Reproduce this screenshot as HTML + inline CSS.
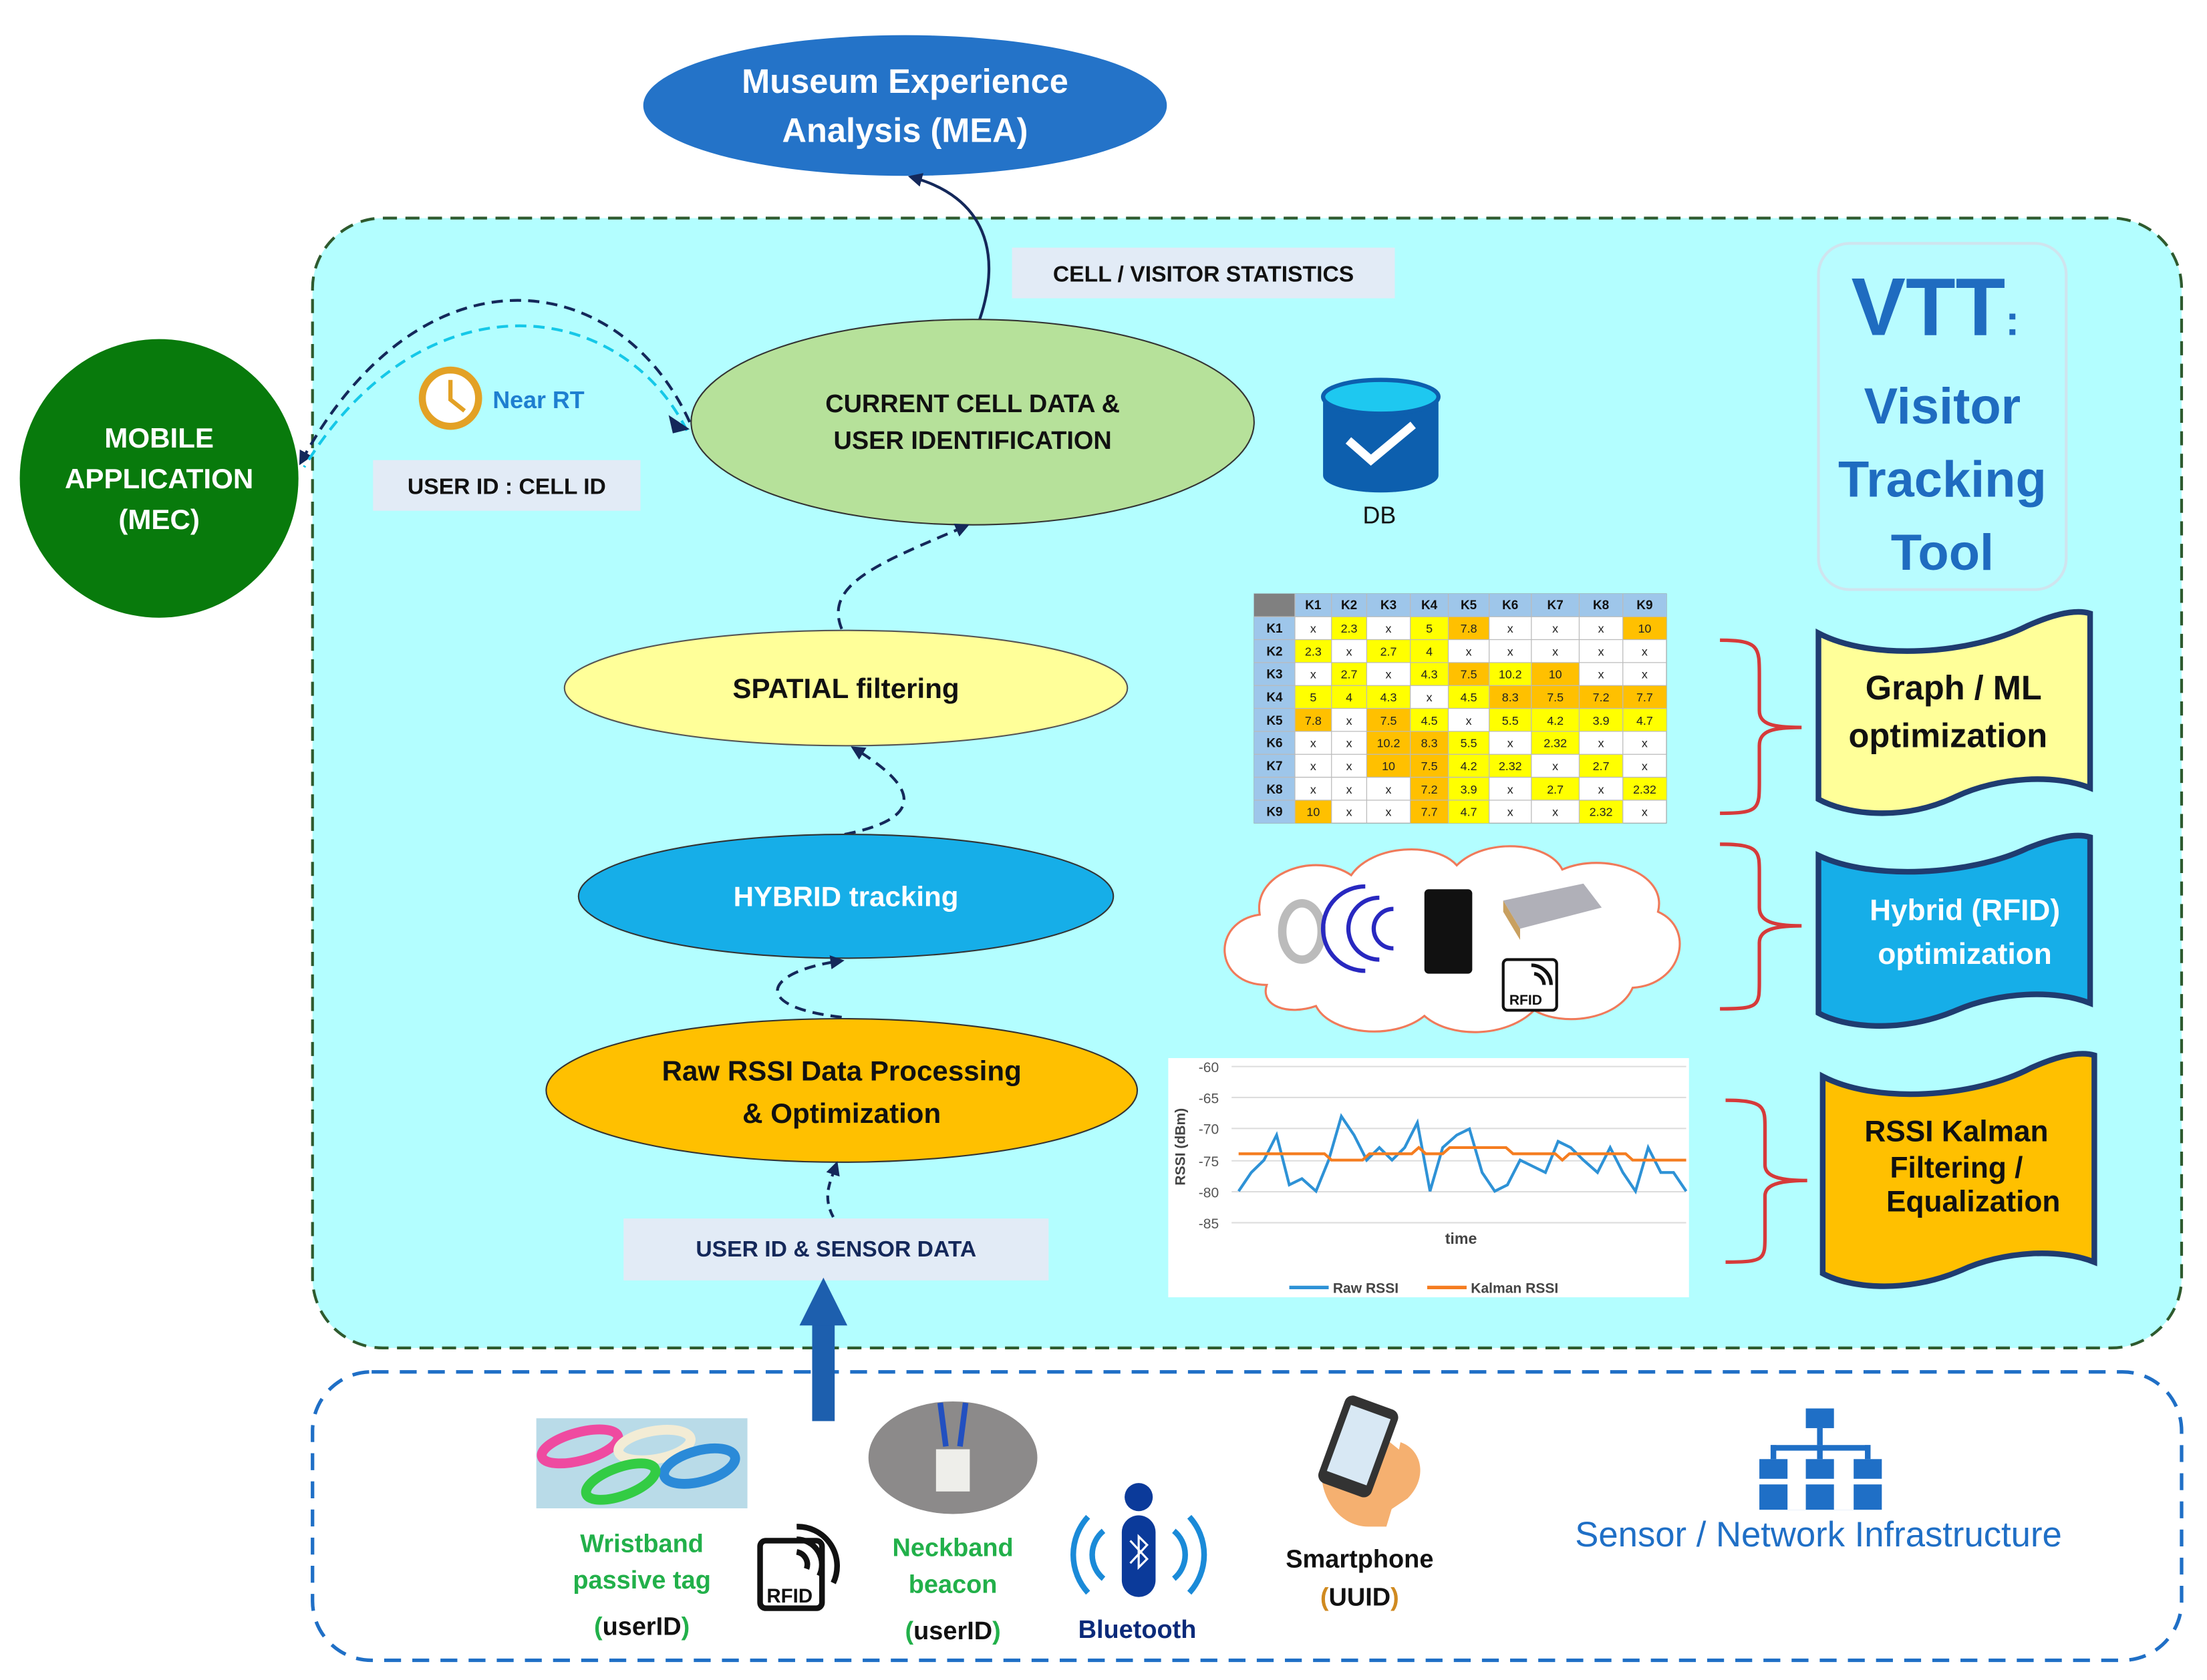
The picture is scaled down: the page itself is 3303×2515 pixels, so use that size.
<!DOCTYPE html>
<html><head><meta charset="utf-8"><style>
html,body{margin:0;padding:0;background:#fff;}
svg{display:block;}
text{font-family:"Liberation Sans",sans-serif;}
.b{font-weight:bold;}
.Y{fill:#ffff00;}
.O{fill:#ffc000;}
.tc{font-size:8.5px;text-anchor:middle;fill:#222;}
.th{font-size:9px;font-weight:bold;text-anchor:middle;fill:#111;}
</style></head><body>
<svg width="3303" height="2515" viewBox="0 0 1568 1194" xmlns="http://www.w3.org/2000/svg">
<defs>
<marker id="ah" markerWidth="10" markerHeight="10" refX="7" refY="5" orient="auto" markerUnits="userSpaceOnUse"><path d="M0,0 L10,5 L0,10 Z" fill="#14285a"/></marker>
</defs>
<rect width="1568" height="1194" fill="#fff"/>

<!-- main area -->
<rect x="222" y="155" width="1328" height="803" rx="50" fill="#b3feff" stroke="#2e5a2e" stroke-width="2" stroke-dasharray="10,6"/>
<!-- bottom area -->
<rect x="222" y="975" width="1328" height="205" rx="42" fill="#fff" stroke="#1f6fc6" stroke-width="2.5" stroke-dasharray="12,8"/>

<!-- MEA -->
<ellipse cx="643" cy="75" rx="186" ry="50" fill="#2473c8"/>
<text x="643" y="66" class="b" font-size="24" fill="#fff" text-anchor="middle">Museum Experience</text>
<text x="643" y="101" class="b" font-size="24" fill="#fff" text-anchor="middle">Analysis (MEA)</text>
<path d="M696,227 C712,180 700,140 648,126" fill="none" stroke="#14285a" stroke-width="2" marker-end="url(#ah)"/>

<!-- Mobile -->
<circle cx="113" cy="340" r="99" fill="#087a0c"/>
<text x="113" y="318" class="b" font-size="20" fill="#fff" text-anchor="middle">MOBILE</text>
<text x="113" y="347" class="b" font-size="20" fill="#fff" text-anchor="middle">APPLICATION</text>
<text x="113" y="376" class="b" font-size="20" fill="#fff" text-anchor="middle">(MEC)</text>

<!-- arcs to mobile -->
<path d="M490,300 C440,190 300,170 214,328" fill="none" stroke="#14285a" stroke-width="2" stroke-dasharray="8,5" marker-end="url(#ah)"/>
<path d="M488,306 C440,210 300,195 216,332" fill="none" stroke="#15c8e8" stroke-width="2" stroke-dasharray="8,5"/>
<path d="M475,295 L490,305 L478,308 Z" fill="#14285a"/>

<!-- stats box -->
<rect x="719" y="176" width="272" height="36" fill="#e2ebf6"/>
<text x="855" y="200" class="b" font-size="16" fill="#111" text-anchor="middle">CELL / VISITOR STATISTICS</text>

<!-- current cell -->
<ellipse cx="691" cy="300" rx="200" ry="73" fill="#b6e19a" stroke="#333" stroke-width="1"/>
<text x="691" y="293" class="b" font-size="18" fill="#111" text-anchor="middle">CURRENT CELL DATA &amp;</text>
<text x="691" y="319" class="b" font-size="18" fill="#111" text-anchor="middle">USER IDENTIFICATION</text>

<!-- Near RT -->
<circle cx="320" cy="283" r="20" fill="#fff" stroke="#e3a125" stroke-width="5"/>
<path d="M320,270 L320,284 L330,292" fill="none" stroke="#e3a125" stroke-width="3"/>
<text x="350" y="290" class="b" font-size="17" fill="#1e7fd0">Near RT</text>
<rect x="265" y="327" width="190" height="36" fill="#e2ebf6"/>
<text x="360" y="351" class="b" font-size="16" fill="#111" text-anchor="middle">USER ID : CELL ID</text>

<!-- DB -->
<path d="M940,282 L940,338 A41,12 0 0 0 1022,338 L1022,282 Z" fill="#0d5fae"/>
<ellipse cx="981" cy="282" rx="41" ry="12" fill="#1ec8f0" stroke="#0d5fae" stroke-width="3"/>
<path d="M958,313 L974,327 L1004,302" fill="none" stroke="#fff" stroke-width="6"/>
<text x="980" y="372" font-size="17" fill="#111" text-anchor="middle">DB</text>

<!-- VTT -->
<rect x="1292" y="173" width="176" height="246" rx="22" fill="#b8fcff" stroke="#cfe4ee" stroke-width="2"/>
<text x="1375" y="238" class="b" font-size="58" fill="#1f6cc0" text-anchor="middle">VTT<tspan font-size="30">:</tspan></text>
<text x="1380" y="301" class="b" font-size="36" fill="#1f6cc0" text-anchor="middle">Visitor</text>
<text x="1380" y="353" class="b" font-size="36" fill="#1f6cc0" text-anchor="middle">Tracking</text>
<text x="1380" y="405" class="b" font-size="36" fill="#1f6cc0" text-anchor="middle">Tool</text>

<!-- spatial -->
<path d="M598,447 C585,415 625,400 686,374" fill="none" stroke="#14285a" stroke-width="2" stroke-dasharray="8,5" marker-end="url(#ah)"/>
<ellipse cx="601" cy="489" rx="200" ry="41" fill="#ffff99" stroke="#555" stroke-width="1"/>
<text x="601" y="496" class="b" font-size="20" fill="#111" text-anchor="middle">SPATIAL filtering</text>

<!-- hybrid -->
<path d="M600,593 C665,580 645,555 607,532" fill="none" stroke="#14285a" stroke-width="2" stroke-dasharray="8,5" marker-end="url(#ah)"/>
<ellipse cx="601" cy="637" rx="190" ry="44" fill="#16aee8" stroke="#333" stroke-width="1"/>
<text x="601" y="644" class="b" font-size="20" fill="#fff" text-anchor="middle">HYBRID tracking</text>

<!-- raw rssi -->
<path d="M598,723 C530,715 545,690 597,683" fill="none" stroke="#14285a" stroke-width="2" stroke-dasharray="8,5" marker-end="url(#ah)"/>
<ellipse cx="598" cy="775" rx="210" ry="51" fill="#ffc000" stroke="#333" stroke-width="1"/>
<text x="598" y="768" class="b" font-size="20" fill="#111" text-anchor="middle">Raw RSSI Data Processing</text>
<text x="598" y="798" class="b" font-size="20" fill="#111" text-anchor="middle">&amp; Optimization</text>
<path d="M592,865 C584,850 590,840 594,828" fill="none" stroke="#14285a" stroke-width="2" stroke-dasharray="6,4" marker-end="url(#ah)"/>

<rect x="443" y="866" width="302" height="44" fill="#e2ebf6"/>
<text x="594" y="893" class="b" font-size="16" fill="#14285a" text-anchor="middle">USER ID &amp; SENSOR DATA</text>

<!-- big arrow -->
<rect x="577" y="940" width="16" height="70" fill="#1d5fae"/>
<path d="M568,942 L585,908 L602,942 Z" fill="#1d5fae"/>

<!-- table -->
<rect x="891" y="422" width="293" height="163" fill="#fff" stroke="#999" stroke-width="0.5"/>
<rect x="891" y="422" width="293" height="16.3" fill="#9ec6ea"/>
<rect x="891" y="422" width="29" height="163" fill="#9ec6ea"/>
<rect x="891" y="422" width="29" height="16.3" fill="#808080"/>
<!-- r1 -->
<rect class="Y" x="946" y="438.3" width="25" height="16.3"/><rect class="Y" x="1002" y="438.3" width="27" height="16.3"/><rect class="O" x="1029" y="438.3" width="29" height="16.3"/><rect class="O" x="1153" y="438.3" width="31" height="16.3"/>
<!-- r2 -->
<rect class="Y" x="920" y="454.6" width="26" height="16.3"/><rect class="Y" x="971" y="454.6" width="31" height="16.3"/><rect class="Y" x="1002" y="454.6" width="27" height="16.3"/>
<!-- r3 -->
<rect class="Y" x="946" y="470.9" width="25" height="16.3"/><rect class="Y" x="1002" y="470.9" width="27" height="16.3"/><rect class="O" x="1029" y="470.9" width="29" height="16.3"/><rect class="Y" x="1058" y="470.9" width="30" height="16.3"/><rect class="O" x="1088" y="470.9" width="34" height="16.3"/>
<!-- r4 -->
<rect class="Y" x="920" y="487.2" width="82" height="16.3"/><rect class="Y" x="1029" y="487.2" width="29" height="16.3"/><rect class="O" x="1058" y="487.2" width="126" height="16.3"/>
<!-- r5 -->
<rect class="O" x="920" y="503.5" width="26" height="16.3"/><rect class="O" x="971" y="503.5" width="31" height="16.3"/><rect class="Y" x="1002" y="503.5" width="27" height="16.3"/><rect class="Y" x="1058" y="503.5" width="126" height="16.3"/>
<!-- r6 -->
<rect class="O" x="971" y="519.8" width="58" height="16.3"/><rect class="Y" x="1029" y="519.8" width="29" height="16.3"/><rect class="Y" x="1088" y="519.8" width="34" height="16.3"/>
<!-- r7 -->
<rect class="O" x="971" y="536.1" width="58" height="16.3"/><rect class="Y" x="1029" y="536.1" width="59" height="16.3"/><rect class="Y" x="1122" y="536.1" width="31" height="16.3"/>
<!-- r8 -->
<rect class="O" x="1002" y="552.4" width="27" height="16.3"/><rect class="Y" x="1029" y="552.4" width="29" height="16.3"/><rect class="Y" x="1088" y="552.4" width="34" height="16.3"/><rect class="Y" x="1153" y="552.4" width="31" height="16.3"/>
<!-- r9 -->
<rect class="O" x="920" y="568.7" width="26" height="16.3"/><rect class="O" x="1002" y="568.7" width="27" height="16.3"/><rect class="Y" x="1029" y="568.7" width="29" height="16.3"/><rect class="Y" x="1122" y="568.7" width="31" height="16.3"/>
<g stroke="#bbb" stroke-width="0.6">
<path d="M920,422V585M946,422V585M971,422V585M1002,422V585M1029,422V585M1058,422V585M1088,422V585M1122,422V585M1153,422V585"/>
<path d="M891,438.3H1184M891,454.6H1184M891,470.9H1184M891,487.2H1184M891,503.5H1184M891,519.8H1184M891,536.1H1184M891,552.4H1184M891,568.7H1184"/>
</g>
<g class="th">
<text x="933" y="433">K1</text><text x="958.5" y="433">K2</text><text x="986.5" y="433">K3</text><text x="1015.5" y="433">K4</text><text x="1043.5" y="433">K5</text><text x="1073" y="433">K6</text><text x="1105" y="433">K7</text><text x="1137.5" y="433">K8</text><text x="1168.5" y="433">K9</text>
<text x="905.5" y="449.5">K1</text><text x="905.5" y="466">K2</text><text x="905.5" y="482">K3</text><text x="905.5" y="498.5">K4</text><text x="905.5" y="515">K5</text><text x="905.5" y="531">K6</text><text x="905.5" y="547.5">K7</text><text x="905.5" y="564">K8</text><text x="905.5" y="580">K9</text>
</g>
<g class="tc">
<text x="933" y="449.5">x</text><text x="958.5" y="449.5">2.3</text><text x="986.5" y="449.5">x</text><text x="1015.5" y="449.5">5</text><text x="1043.5" y="449.5">7.8</text><text x="1073" y="449.5">x</text><text x="1105" y="449.5">x</text><text x="1137.5" y="449.5">x</text><text x="1168.5" y="449.5">10</text>
<text x="933" y="466">2.3</text><text x="958.5" y="466">x</text><text x="986.5" y="466">2.7</text><text x="1015.5" y="466">4</text><text x="1043.5" y="466">x</text><text x="1073" y="466">x</text><text x="1105" y="466">x</text><text x="1137.5" y="466">x</text><text x="1168.5" y="466">x</text>
<text x="933" y="482">x</text><text x="958.5" y="482">2.7</text><text x="986.5" y="482">x</text><text x="1015.5" y="482">4.3</text><text x="1043.5" y="482">7.5</text><text x="1073" y="482">10.2</text><text x="1105" y="482">10</text><text x="1137.5" y="482">x</text><text x="1168.5" y="482">x</text>
<text x="933" y="498.5">5</text><text x="958.5" y="498.5">4</text><text x="986.5" y="498.5">4.3</text><text x="1015.5" y="498.5">x</text><text x="1043.5" y="498.5">4.5</text><text x="1073" y="498.5">8.3</text><text x="1105" y="498.5">7.5</text><text x="1137.5" y="498.5">7.2</text><text x="1168.5" y="498.5">7.7</text>
<text x="933" y="515">7.8</text><text x="958.5" y="515">x</text><text x="986.5" y="515">7.5</text><text x="1015.5" y="515">4.5</text><text x="1043.5" y="515">x</text><text x="1073" y="515">5.5</text><text x="1105" y="515">4.2</text><text x="1137.5" y="515">3.9</text><text x="1168.5" y="515">4.7</text>
<text x="933" y="531">x</text><text x="958.5" y="531">x</text><text x="986.5" y="531">10.2</text><text x="1015.5" y="531">8.3</text><text x="1043.5" y="531">5.5</text><text x="1073" y="531">x</text><text x="1105" y="531">2.32</text><text x="1137.5" y="531">x</text><text x="1168.5" y="531">x</text>
<text x="933" y="547.5">x</text><text x="958.5" y="547.5">x</text><text x="986.5" y="547.5">10</text><text x="1015.5" y="547.5">7.5</text><text x="1043.5" y="547.5">4.2</text><text x="1073" y="547.5">2.32</text><text x="1105" y="547.5">x</text><text x="1137.5" y="547.5">2.7</text><text x="1168.5" y="547.5">x</text>
<text x="933" y="564">x</text><text x="958.5" y="564">x</text><text x="986.5" y="564">x</text><text x="1015.5" y="564">7.2</text><text x="1043.5" y="564">3.9</text><text x="1073" y="564">x</text><text x="1105" y="564">2.7</text><text x="1137.5" y="564">x</text><text x="1168.5" y="564">2.32</text>
<text x="933" y="580">10</text><text x="958.5" y="580">x</text><text x="986.5" y="580">x</text><text x="1015.5" y="580">7.7</text><text x="1043.5" y="580">4.7</text><text x="1073" y="580">x</text><text x="1105" y="580">x</text><text x="1137.5" y="580">2.32</text><text x="1168.5" y="580">x</text>
</g>

<!-- cloud -->
<path d="M900,700 C862,700 860,655 895,650 C890,620 935,605 960,622 C975,600 1020,598 1035,615 C1055,595 1100,598 1110,618 C1140,605 1185,620 1178,648 C1205,660 1195,700 1160,702 C1150,725 1110,730 1090,718 C1070,738 1030,738 1012,722 C990,740 945,735 935,715 C915,722 895,715 900,700 Z" fill="#fff" stroke="#f07a5a" stroke-width="1.5"/>
<ellipse cx="925" cy="662" rx="14" ry="20" fill="none" stroke="#bbb" stroke-width="6"/>
<path d="M970,630 A30,30 0 0 0 970,690 M980,638 A22,22 0 0 0 980,682 M990,646 A14,14 0 0 0 990,674" fill="none" stroke="#2828c0" stroke-width="3"/>
<rect x="1012" y="632" width="34" height="60" rx="3" fill="#111"/>
<path d="M1068,640 L1125,628 L1138,645 L1080,660 Z" fill="#b0b0b8"/>
<path d="M1068,640 L1080,660 L1080,668 L1068,648 Z" fill="#c8a060"/>
<rect x="1068" y="682" width="38" height="36" rx="3" fill="#fff" stroke="#111" stroke-width="2"/>
<text x="1084" y="714" class="b" font-size="10" text-anchor="middle" fill="#111">RFID</text>
<path d="M1088,686 A14,14 0 0 1 1102,700 M1090,692 A8,8 0 0 1 1097,700" fill="none" stroke="#111" stroke-width="2.5"/>

<!-- chart -->
<rect x="830" y="752" width="370" height="170" fill="#fff"/>
<g stroke="#ddd" stroke-width="1">
<path d="M875,758H1198M875,780H1198M875,802H1198M875,825H1198M875,847H1198M875,869H1198"/>
</g>
<g font-size="10" fill="#555" text-anchor="end">
<text x="866" y="762">-60</text><text x="866" y="784">-65</text><text x="866" y="806">-70</text><text x="866" y="829">-75</text><text x="866" y="851">-80</text><text x="866" y="873">-85</text>
</g>
<text transform="translate(842,815) rotate(-90)" font-size="10" class="b" fill="#444" text-anchor="middle">RSSI (dBm)</text>
<text x="1038" y="884" font-size="11" class="b" fill="#444" text-anchor="middle">time</text>
<polyline fill="none" stroke="#2e92d6" stroke-width="2" points="880,846.6 889,833.3 898,824.5 907,806.7 916,842.1 925,837.7 935,846.6 944,824.5 953,793.4 962,806.7 971,824.5 980,815.6 989,824.5 998,815.6 1007,797.9 1016,846.6 1025,815.6 1035,806.7 1044,802.3 1053,833.3 1062,846.6 1071,842.1 1080,824.5 1089,828.9 1098,833.3 1107,811.2 1116,815.6 1125,824.5 1135,833.3 1144,815.6 1153,833.3 1162,846.6 1171,815.6 1180,833.3 1189,833.3 1198,846.6"/>
<polyline fill="none" stroke="#f57d20" stroke-width="2" points="880,820 941,820 946,824.5 968,824.5 973,820 1003,820 1008,815.6 1013,820 1025,820 1030,815.6 1070,815.6 1075,820 1105,820 1110,824.5 1115,820 1155,820 1160,824.5 1198,824.5"/>
<path d="M916,915H944" stroke="#2e92d6" stroke-width="2.5"/><text x="947" y="919" font-size="10" class="b" fill="#444">Raw RSSI</text>
<path d="M1014,915H1042" stroke="#f57d20" stroke-width="2.5"/><text x="1045" y="919" font-size="10" class="b" fill="#444">Kalman RSSI</text>

<!-- braces -->
<g fill="none" stroke="#d63a3a" stroke-width="2.5">
<path d="M1222,455 C1250,455 1250,460 1250,480 L1250,505 C1250,515 1260,517 1280,517 C1260,517 1250,519 1250,530 L1250,555 C1250,575 1250,578 1222,578"/>
<path d="M1222,600 C1250,600 1250,605 1250,620 L1250,645 C1250,655 1260,658 1280,658 C1260,658 1250,661 1250,670 L1250,697 C1250,715 1250,717 1222,717"/>
<path d="M1226,782 C1254,782 1254,787 1254,802 L1254,828 C1254,836 1264,839 1284,839 C1264,839 1254,842 1254,850 L1254,878 C1254,895 1254,897 1226,897"/>
</g>

<!-- banners -->
<path d="M1292,450 C1330,470 1400,465 1440,445 C1460,436 1475,433 1485,436 L1485,560 C1460,550 1420,552 1390,566 C1350,585 1310,578 1292,568 Z" fill="#ffff99" stroke="#1f3c70" stroke-width="4"/>
<text x="1388" y="497" class="b" font-size="24" fill="#111" text-anchor="middle">Graph / ML</text>
<text x="1384" y="531" class="b" font-size="24" fill="#111" text-anchor="middle">optimization</text>
<path d="M1292,608 C1330,626 1400,622 1440,603 C1460,595 1475,592 1485,595 L1485,713 C1460,703 1420,705 1390,718 C1350,735 1310,730 1292,720 Z" fill="#16aee8" stroke="#1f3c70" stroke-width="4"/>
<text x="1396" y="654" class="b" font-size="21" fill="#fff" text-anchor="middle">Hybrid (RFID)</text>
<text x="1396" y="685" class="b" font-size="21" fill="#fff" text-anchor="middle">optimization</text>
<path d="M1295,765 C1333,785 1403,780 1443,759 C1463,750 1478,747 1488,750 L1488,897 C1463,887 1423,889 1393,903 C1353,920 1313,915 1295,905 Z" fill="#ffc000" stroke="#1f3c70" stroke-width="4"/>
<text x="1390" y="811" class="b" font-size="21" fill="#111" text-anchor="middle">RSSI Kalman</text>
<text x="1390" y="837" class="b" font-size="21" fill="#111" text-anchor="middle">Filtering    /</text>
<text x="1402" y="861" class="b" font-size="21" fill="#111" text-anchor="middle">Equalization</text>

<!-- bottom items -->
<rect x="381" y="1008" width="150" height="64" fill="#b9dbe8"/>
<ellipse cx="412" cy="1028" rx="28" ry="10" fill="none" stroke="#ef4aa0" stroke-width="7" transform="rotate(-15 412 1028)"/>
<ellipse cx="465" cy="1027" rx="26" ry="10" fill="none" stroke="#f3ecd5" stroke-width="7" transform="rotate(-10 465 1027)"/>
<ellipse cx="497" cy="1042" rx="26" ry="11" fill="none" stroke="#2a8ad8" stroke-width="7" transform="rotate(-15 497 1042)"/>
<ellipse cx="441" cy="1053" rx="26" ry="10" fill="none" stroke="#33cc44" stroke-width="7" transform="rotate(-20 441 1053)"/>
<text x="456" y="1103" class="b" font-size="18" fill="#22b04a" text-anchor="middle">Wristband</text>
<text x="456" y="1129" class="b" font-size="18" fill="#22b04a" text-anchor="middle">passive tag</text>
<text x="456" y="1162" class="b" font-size="18" fill="#111" text-anchor="middle"><tspan fill="#22b04a">(</tspan>userID<tspan fill="#22b04a">)</tspan></text>

<rect x="540" y="1095" width="44" height="48" rx="4" fill="#fff" stroke="#111" stroke-width="4"/>
<text x="561" y="1139" class="b" font-size="14" fill="#111" text-anchor="middle">RFID</text>
<path d="M566,1085 A28,28 0 0 1 592,1125 M566,1094 A18,18 0 0 1 582,1120 M566,1103 A9,9 0 0 1 573,1115" fill="none" stroke="#111" stroke-width="4"/>

<ellipse cx="677" cy="1036" rx="60" ry="40" fill="#8c8a8a"/>
<path d="M668,997 L672,1028 M686,997 L682,1028" stroke="#2250c0" stroke-width="4"/>
<rect x="665" y="1030" width="24" height="30" fill="#eeeeea"/>
<text x="677" y="1106" class="b" font-size="18" fill="#22b04a" text-anchor="middle">Neckband</text>
<text x="677" y="1132" class="b" font-size="18" fill="#22b04a" text-anchor="middle">beacon</text>
<text x="677" y="1165" class="b" font-size="18" fill="#111" text-anchor="middle"><tspan fill="#22b04a">(</tspan>userID<tspan fill="#22b04a">)</tspan></text>

<circle cx="809" cy="1064" r="10" fill="#0b3a9a"/>
<rect x="797" y="1077" width="24" height="58" rx="12" fill="#0b3a9a"/>
<path d="M803,1095 L815,1108 L809,1114 L809,1092 L815,1098 L803,1111" fill="none" stroke="#fff" stroke-width="1.5"/>
<g fill="none" stroke="#1a8ad8" stroke-width="4">
<path d="M773,1078 A40,40 0 0 0 773,1132 M784,1088 A22,22 0 0 0 784,1122"/>
<path d="M845,1078 A40,40 0 0 1 845,1132 M834,1088 A22,22 0 0 1 834,1122"/>
</g>
<text x="808" y="1164" class="b" font-size="18" fill="#0b2a7a" text-anchor="middle">Bluetooth</text>

<path d="M940,1040 C935,1060 950,1085 972,1085 L985,1085 L1000,1035 L975,1015 Z" fill="#f5b070"/>
<rect x="945" y="995" width="40" height="66" rx="6" fill="#333" transform="rotate(20 965 1028)"/>
<rect x="950" y="1002" width="30" height="50" fill="#d8e8f4" transform="rotate(20 965 1028)"/>
<path d="M995,1025 C1010,1030 1015,1050 1000,1065 L985,1075 Z" fill="#f5b070"/>
<text x="966" y="1114" class="b" font-size="18" fill="#111" text-anchor="middle">Smartphone</text>
<text x="966" y="1141" class="b" font-size="18" fill="#111" text-anchor="middle"><tspan fill="#d08a20">(</tspan>UUID<tspan fill="#d08a20">)</tspan></text>

<g fill="#1f6fc6">
<rect x="1283" y="1001" width="20" height="14"/>
<rect x="1291" y="1015" width="4" height="12"/>
<rect x="1258" y="1027" width="71" height="4"/>
<rect x="1258" y="1027" width="4" height="10"/><rect x="1291" y="1027" width="4" height="10"/><rect x="1325" y="1027" width="4" height="10"/>
<rect x="1250" y="1037" width="20" height="14"/><rect x="1283" y="1037" width="20" height="14"/><rect x="1317" y="1037" width="20" height="14"/>
<rect x="1250" y="1055" width="87" height="18"/>
</g>
<rect x="1270" y="1051" width="13" height="22" fill="#fff"/><rect x="1303" y="1051" width="14" height="22" fill="#fff"/>
<text x="1292" y="1099" font-size="25" fill="#1f6fc6" text-anchor="middle">Sensor / Network Infrastructure</text>
</svg>
</body></html>
